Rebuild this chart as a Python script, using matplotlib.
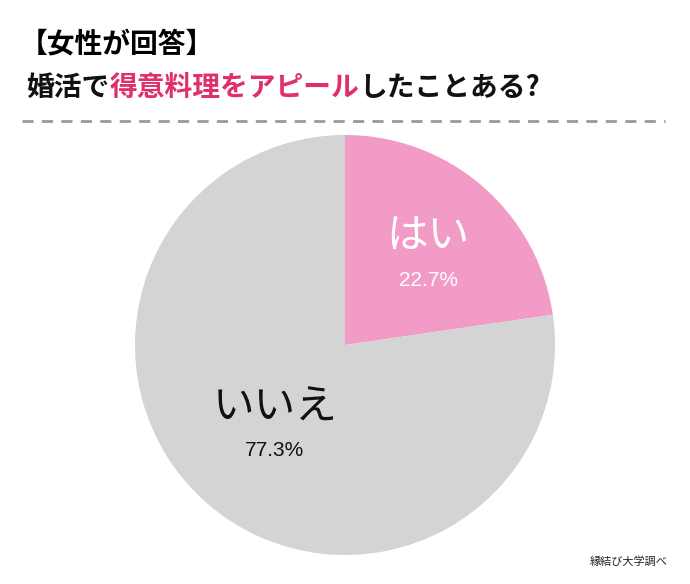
import matplotlib
matplotlib.use("Agg")
import matplotlib.pyplot as plt
from matplotlib.lines import Line2D

plt.rcParams["font.family"] = "Noto Sans CJK JP"

labels = ["はい", "いいえ"]
shares = [22.7, 77.3]
colors = ["#f29bc6", "#d4d4d4"]
title_top = "【女性が回答】"
title_parts = [("婚活で", "#111111"), ("得意料理をアピール", "#e0306a"), ("したことある?", "#111111")]
source = "縁結び大学調べ"

W, H = 690, 584
fig = plt.figure(figsize=(W / 100, H / 100), dpi=100)
fig.patch.set_facecolor("white")

def fx(px):
    return px / W

def fy(py):
    return 1 - py / H

# title
fig.text(fx(20), fy(45), title_top, fontsize=20, fontweight="bold", va="center", ha="left")
fig.canvas.draw()
renderer = fig.canvas.get_renderer()
x = fx(26)
for txt, col in title_parts:
    t = fig.text(x, fy(88), txt, fontsize=20, fontweight="bold", color=col, va="center", ha="left")
    x += t.get_window_extent(renderer).width / W

fig.add_artist(Line2D([fx(22), fx(665)], [fy(121), fy(121)], color="#999999",
                      linestyle=(0, (4, 3)), linewidth=2))

# pie
cx, cy, r = 345, 345, 210
ax = fig.add_axes([fx(cx - r), fy(cy + r), 2 * r / W, 2 * r / H])
ax.pie(shares, colors=colors, startangle=90, counterclock=False, radius=1,
       wedgeprops=dict(linewidth=0))
ax.set_xlim(-1, 1)
ax.set_ylim(-1, 1)

def axpos(px, py):
    return ((px - cx) / r, (cy - py) / r)

ax.text(*axpos(428, 237), labels[0], fontsize=30, color="white", ha="center", va="center")
ax.text(*axpos(428, 280), f"{shares[0]}%", fontsize=15, color="white", ha="center", va="center",
        fontfamily="Liberation Sans")
ax.text(*axpos(275, 408), labels[1], fontsize=30, color="#111111", ha="center", va="center")
ax.text(*axpos(275, 450), f"{shares[1]}%", fontsize=15, color="#111111", ha="center", va="center",
        fontfamily="Liberation Sans")

fig.text(fx(668), fy(562), source, fontsize=8, ha="right", va="center", color="#222222")

fig.savefig("out.png", dpi=100)
